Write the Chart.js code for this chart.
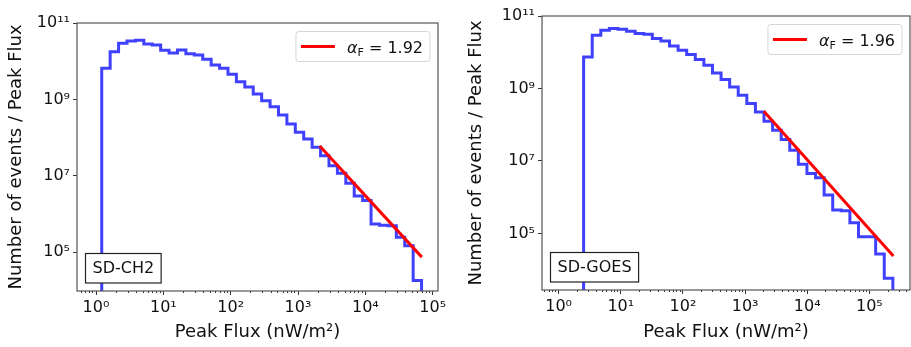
<!DOCTYPE html>
<html>
<head>
<meta charset="utf-8">
<script src="https://cdn.jsdelivr.net/npm/chart.js@4"></script>
<style>
  body { margin: 0; background: #fff; }
  #wrap { position: relative; width: 911px; height: 347px; }
  #left { position: absolute; left: 0; top: 0; }
  #right { position: absolute; left: 460px; top: 0; }
</style>
</head>
<body>
<div id="wrap">
  <canvas id="left" width="460" height="347"></canvas>
  <canvas id="right" width="451" height="347"></canvas>
</div>
<script>
// SD-CH2 histogram: bin edges (nW/m^2) and events per flux in each bin
var ch2Edges = [1.216, 1.622, 2.163, 2.884, 3.846, 5.129, 6.839, 9.120,
    12.16, 16.22, 21.63, 28.84, 38.46, 51.29, 68.39, 91.20,
    121.6, 162.2, 216.3, 288.4, 384.6, 512.9, 683.9, 912.0,
    1216, 1622, 2163, 2884, 3846, 5129, 6839, 9120,
    12160, 16220, 21630, 28840, 38460, 51290, 68390];
var ch2Counts = [6.5e9, 1.77e10, 2.94e10, 3.38e10, 3.52e10, 2.82e10, 2.65e10, 1.93e10,
    1.64e10, 1.96e10, 1.57e10, 1.45e10, 1.12e10, 7.96e9, 6.5e9, 4.54e9,
    2.90e9, 2.11e9, 1.38e9, 9.25e8, 6.44e8, 3.91e8, 2.27e8, 1.38e8,
    9.18e7, 5.57e7, 3.36e7, 1.84e7, 1.16e7, 6.35e6, 2.96e6, 2.25e6,
    5.47e5, 5.06e5, 4.94e5, 2.45e5, 1.48e5, 1.82e4];
var ch2FitX = [2100, 69000];
var ch2FitY = [6.0e7, 7.4e4];
var ch2Alpha = '1.92';

// SD-GOES histogram
var goesEdges = [2.523, 3.469, 4.769, 6.556, 9.012, 12.39, 17.03, 23.41, 32.19, 44.25,
    60.81, 83.60, 114.9, 158.0, 217.2, 298.5, 410.5, 564.2, 775.6, 1066,
    1466, 2015, 2770, 3808, 5234, 7194, 9890, 13600, 18690, 25690,
    35320, 48550, 66740, 91750, 126100, 173400, 238400];
var goesCounts = [7.41e9, 2.94e10, 4.04e10, 4.50e10, 4.30e10, 3.78e10, 3.27e10, 3.13e10, 2.38e10, 2.05e10,
    1.49e10, 1.13e10, 8.63e9, 6.28e9, 4.38e9, 2.68e9, 1.77e9, 1.10e9, 6.52e8, 3.85e8,
    2.25e8, 1.25e8, 7.06e7, 3.91e7, 1.98e7, 8.15e6, 4.52e6, 3.41e6, 1.14e6, 4.40e5,
    4.21e5, 1.96e5, 8.07e4, 8.07e4, 2.69e4, 5.75e3];
var goesFitX = [2000, 243000];
var goesFitY = [2.36e8, 2.37e4];
var goesAlpha = '1.96';

// tick labels
var xTickValues = [1, 10, 100, 1000, 10000, 100000];
var xTickLabels = ['10\u2070', '10\u00b9', '10\u00b2', '10\u00b3', '10\u2074', '10\u2075'];
var yTickValues = [1e5, 1e7, 1e9, 1e11];
var yTickLabels = ['10\u2075', '10\u2077', '10\u2079', '10\u00b9\u00b9'];

var FONT = 'DejaVu Sans';

function findLabel(values, labels, v) {
    for (var i = 0; i < values.length; i++) {
        if (Math.abs(v / values[i] - 1) < 1e-6) return labels[i];
    }
    return '';
}

function isMajor(v) {
    return findLabel(xTickValues, xTickLabels, v) !== '';
}

function logTicks(min, max) {
    var out = [];
    for (var d = Math.floor(Math.log10(min)); d <= Math.ceil(Math.log10(max)); d++) {
        for (var m = 1; m <= 9; m++) {
            var v = m * Math.pow(10, d);
            if (v >= min && v <= max) out.push({ value: v });
        }
    }
    return out;
}

function stepPoints(edges, counts) {
    var floor = 1;
    var pts = [{ x: edges[0], y: floor }];
    for (var i = 0; i < counts.length; i++) pts.push({ x: edges[i], y: counts[i] });
    pts.push({ x: edges[edges.length - 1], y: counts[counts.length - 1] });
    pts.push({ x: edges[edges.length - 1], y: floor });
    return pts;
}

// frame, legend box and panel tag
var panelDecor = {
    id: 'panelDecor',
    afterDraw: function (chart, args, opts) {
        var ctx = chart.ctx, a = chart.chartArea;
        ctx.save();
        ctx.strokeStyle = '#555';
        ctx.lineWidth = 1.2;
        ctx.strokeRect(a.left, a.top, a.right - a.left, a.bottom - a.top);

        // legend
        ctx.font = '16px "' + FONT + '"';
        var rest = ' = ' + opts.alpha;
        var wA, wF, wR;
        ctx.font = 'italic 16px "' + FONT + '"'; wA = ctx.measureText('\u03b1').width;
        ctx.font = '11px "' + FONT + '"'; wF = ctx.measureText('F').width;
        ctx.font = '16px "' + FONT + '"'; wR = ctx.measureText(rest).width;
        var bw = 5 + 34 + 12 + wA + wF + wR + 7, bh = 30;
        var bx = a.right - 8 - bw, by = a.top + 8.5;
        ctx.beginPath();
        ctx.roundRect(bx, by, bw, bh, 3);
        ctx.fillStyle = 'rgba(255,255,255,0.8)';
        ctx.fill();
        ctx.strokeStyle = 'rgba(204,204,204,0.8)';
        ctx.lineWidth = 1;
        ctx.stroke();
        var cy = by + bh / 2;
        ctx.beginPath();
        ctx.moveTo(bx + 5, cy);
        ctx.lineTo(bx + 39, cy);
        ctx.strokeStyle = '#ff0000';
        ctx.lineWidth = 3;
        ctx.stroke();
        ctx.fillStyle = '#111';
        ctx.textBaseline = 'alphabetic';
        var tx = bx + 51, ty = cy + 6;
        ctx.font = 'italic 16px "' + FONT + '"';
        ctx.fillText('\u03b1', tx, ty);
        ctx.font = '11px "' + FONT + '"';
        ctx.fillText('F', tx + wA, ty + 3);
        ctx.font = '16px "' + FONT + '"';
        ctx.fillText(rest, tx + wA + wF, ty);

        // tag box
        var tw = ctx.measureText(opts.tag).width;
        var gw = tw + 14, gh = 29.5;
        var gx = a.left + 8.5, gy = a.bottom - 8 - gh;
        ctx.fillStyle = '#fff';
        ctx.fillRect(gx, gy, gw, gh);
        ctx.strokeStyle = '#222';
        ctx.lineWidth = 1.2;
        ctx.strokeRect(gx, gy, gw, gh);
        ctx.fillStyle = '#111';
        ctx.textAlign = 'center';
        ctx.textBaseline = 'middle';
        ctx.fillText(opts.tag, gx + gw / 2, gy + gh / 2 + 1);
        ctx.restore();
    }
};

function makePanel(id, edges, counts, fitX, fitY, alpha, tag, box) {
    var ctx = document.getElementById(id).getContext('2d');
    return new Chart(ctx, {
        type: 'line',
        data: {
            datasets: [{
                label: 'fit',
                data: [{ x: fitX[0], y: fitY[0] }, { x: fitX[1], y: fitY[1] }],
                borderColor: '#ff0000',
                borderWidth: 3,
                pointRadius: 0,
                fill: false
            }, {
                label: tag,
                data: stepPoints(edges, counts),
                borderColor: 'rgba(0,0,255,0.75)',
                borderWidth: 3,
                stepped: 'before',
                pointRadius: 0,
                fill: false,
                clip: 0
            }]
        },
        options: {
            responsive: false,
            animation: false,
            events: [],
            layout: { padding: { left: 0, right: box.padRight, top: box.padTop, bottom: 0 } },
            plugins: {
                legend: { display: false },
                tooltip: { enabled: false },
                panelDecor: { alpha: alpha, tag: tag }
            },
            scales: {
                x: {
                    type: 'logarithmic',
                    min: box.xMin,
                    max: box.xMax,
                    afterBuildTicks: function (axis) { axis.ticks = logTicks(axis.min, axis.max); },
                    afterFit: function (axis) { axis.height = box.xHeight; },
                    border: { display: false },
                    grid: {
                        drawOnChartArea: false,
                        drawTicks: true,
                        tickLength: 4,
                        tickColor: '#333',
                        tickWidth: 1,
                        tickBorderDash: function (c) { return (c.tick && isMajor(c.tick.value)) ? [] : [2, 10]; }
                    },
                    ticks: {
                        autoSkip: false,
                        maxRotation: 0,
                        padding: 3,
                        color: '#111',
                        font: { family: FONT, size: 16 },
                        callback: function (v) { return findLabel(xTickValues, xTickLabels, v); }
                    },
                    title: {
                        display: true,
                        text: 'Peak Flux (nW/m\u00b2)',
                        color: '#111',
                        font: { family: FONT, size: 18 },
                        padding: { top: 0, bottom: 4 }
                    }
                },
                y: {
                    type: 'logarithmic',
                    min: box.yMin,
                    max: box.yMax,
                    afterBuildTicks: function (axis) {
                        axis.ticks = yTickValues.map(function (v) { return { value: v }; });
                    },
                    afterFit: function (axis) { axis.width = box.yWidth; },
                    border: { display: false },
                    grid: { drawOnChartArea: false, drawTicks: true, tickLength: 4, tickColor: '#333' },
                    ticks: {
                        autoSkip: false,
                        padding: 3,
                        color: '#111',
                        font: { family: FONT, size: 16 },
                        callback: function (v) { return findLabel(yTickValues, yTickLabels, v); }
                    },
                    title: {
                        display: true,
                        text: 'Number of events / Peak Flux',
                        color: '#111',
                        font: { family: FONT, size: 18 },
                        padding: { top: 6, bottom: 0 }
                    }
                }
            }
        },
        plugins: [panelDecor]
    });
}

makePanel('left', ch2Edges, ch2Counts, ch2FitX, ch2FitY, ch2Alpha, 'SD-CH2', {
    xMin: 0.522, xMax: 1.2e5, yMin: 9.6e3, yMax: 1e11,
    yWidth: 77, xHeight: 56, padTop: 23, padRight: 22
});
makePanel('right', goesEdges, goesCounts, goesFitX, goesFitY, goesAlpha, 'SD-GOES', {
    xMin: 0.54, xMax: 4.5e5, yMin: 2.74e3, yMax: 1e11,
    yWidth: 82, xHeight: 57, padTop: 16, padRight: 1
});
</script>
</body>
</html>
